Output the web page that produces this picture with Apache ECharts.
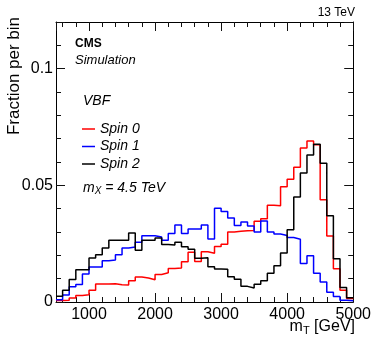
<!DOCTYPE html>
<html>
<head>
<meta charset="utf-8">
<script src="https://cdn.jsdelivr.net/npm/echarts@6/dist/echarts.min.js"></script>
<style>
html,body{margin:0;padding:0;background:#fff;}
#chart{width:374px;height:356px;}
</style>
</head>
<body>
<div id="chart"></div>
<script>
// Bin edges (GeV)
const binEdges = [500,600,700,800,900,1000,1100,1200,1300,1400,1500,1600,1700,1800,1900,2000,2100,2200,2300,2400,2500,2600,2700,2800,2900,3000,3100,3200,3300,3400,3500,3600,3700,3800,3900,4000,4100,4200,4300,4400,4500,4600,4700,4800,4900,5000];
// Fraction per bin, one value per bin
const spin0 = [0.0006,0.0007,0.0017,0.0028,0.0031,0.0050,0.0077,0.0077,0.0078,0.0074,0.0073,0.0091,0.0107,0.0103,0.0095,0.0118,0.0125,0.0144,0.0146,0.0172,0.0213,0.0174,0.0215,0.0209,0.0238,0.0248,0.0300,0.0303,0.0305,0.0306,0.0346,0.0357,0.0415,0.0413,0.0494,0.0526,0.0577,0.0660,0.0690,0.0674,0.0438,0.0283,0.0142,0.0050,0.0015];
const spin1 = [0.0010,0.0030,0.0065,0.0075,0.0120,0.0150,0.0150,0.0177,0.0180,0.0203,0.0231,0.0236,0.0256,0.0284,0.0284,0.0279,0.0265,0.0294,0.0330,0.0294,0.0313,0.0313,0.0330,0.0270,0.0402,0.0388,0.0360,0.0328,0.0343,0.0326,0.0300,0.0347,0.0300,0.0291,0.0285,0.0276,0.0269,0.0165,0.0198,0.0123,0.0086,0.0042,0.0024,0.0008,0.0005];
const spin2 = [0.0025,0.0050,0.0096,0.0138,0.0138,0.0189,0.0203,0.0231,0.0265,0.0265,0.0265,0.0296,0.0222,0.0265,0.0265,0.0274,0.0246,0.0244,0.0256,0.0237,0.0226,0.0187,0.0190,0.0151,0.0141,0.0140,0.0108,0.0098,0.0067,0.0060,0.0076,0.0091,0.0123,0.0155,0.0210,0.0310,0.0450,0.0553,0.0630,0.0676,0.0595,0.0370,0.0185,0.0062,0.0018];
const seriesNames = ['Spin 0','Spin 1','Spin 2'];
const seriesColors = ['#ff0000','#0000ff','#000000'];
const xTickLabels = [1000,2000,3000,4000,5000];
const yTickLabels = [0,0.05,0.1];

function steps(vals){
  return binEdges.map((e,i)=>[e, vals[Math.min(i, vals.length-1)]]);
}

const FONT = '"Liberation Sans", Arial, Helvetica, sans-serif';
const TICK = '#111111';
const chart = echarts.init(document.getElementById('chart'));

function xAx(pos, labels){
  return {
    type:'value', position:pos, min:500, max:5000,
    axisLine:{show:true, onZero:false, lineStyle:{color:'#000', width:1}},
    axisTick:{show:true, inside:true, length:9, lineStyle:{color:TICK, width:1}},
    minorTick:{show:true, splitNumber:5, length:5, lineStyle:{color:TICK, width:1}},
    axisLabel:{show:labels, showMinLabel:false, color:'#000', fontSize:16, fontFamily:FONT, margin:5,
      formatter:(v)=> xTickLabels.indexOf(+v) >= 0 ? String(v) : ''},
    splitLine:{show:false}, minorSplitLine:{show:false}
  };
}
function yAx(pos, labels){
  return {
    type:'value', position:pos, min:0, max:0.12, interval:0.05,
    axisLine:{show:true, onZero:false, lineStyle:{color:'#000', width:1}},
    axisTick:{show:true, inside:true, length:9, lineStyle:{color:TICK, width:1}},
    minorTick:{show:true, splitNumber:5, length:5, lineStyle:{color:TICK, width:1}},
    axisLabel:{show:labels, showMaxLabel:false, color:'#000', fontSize:16, fontFamily:FONT, margin:3,
      formatter:(v)=> yTickLabels.some(t=>Math.abs(t-v)<1e-9) ? String(+(+v).toFixed(3)) : ''},
    splitLine:{show:false}, minorSplitLine:{show:false}
  };
}

const option = {
  animation:false,
  grid:{left:56, right:19, top:22, bottom:54},
  xAxis:[ xAx('bottom', true), xAx('top', false) ],
  yAxis:[ yAx('left', true), yAx('right', false) ],
  legend:{
    left:77, top:116, orient:'vertical',
    icon:'rect', itemWidth:13, itemHeight:1.5, itemGap:1.5,
    textStyle:{fontSize:14, fontStyle:'italic', fontFamily:FONT, color:'#000', lineHeight:16},
    data:seriesNames
  },
  series:[spin0, spin1, spin2].map((vals,i)=>({
    name:seriesNames[i], type:'line', step:'end', xAxisIndex:0, yAxisIndex:0,
    data:steps(vals), showSymbol:false, symbol:'none',
    lineStyle:{color:seriesColors[i], width:1.5}, itemStyle:{color:seriesColors[i]}
  })),
  graphic:[
    {type:'text', x:355, y:13, style:{text:'13 TeV', fill:'#000', font:'12px '+FONT, align:'right', verticalAlign:'middle'}},
    {type:'text', x:75, y:44, style:{text:'CMS', fill:'#000', font:'bold 12px '+FONT, align:'left', verticalAlign:'middle'}},
    {type:'text', x:75, y:60, style:{text:'Simulation', fill:'#000', font:'italic 13px '+FONT, align:'left', verticalAlign:'middle'}},
    {type:'text', x:83, y:101, style:{text:'VBF', fill:'#000', font:'italic 14px '+FONT, align:'left', verticalAlign:'middle'}},
    {type:'text', x:83, y:188, style:{text:'{a|m}{s|X}{a| = 4.5 TeV}', fill:'#000', align:'left', verticalAlign:'middle',
      rich:{a:{fontSize:14, fontStyle:'italic', fontFamily:FONT, color:'#000'}, s:{fontSize:10, fontStyle:'italic', fontFamily:FONT, color:'#000', padding:[7,0,0,0]}}}},
    {type:'text', x:14, y:76, rotation:Math.PI/2, style:{text:'Fraction per bin', fill:'#000', font:'17px '+FONT, align:'center', verticalAlign:'middle'}},
    {type:'text', x:355, y:327, style:{text:'{a|m}{s|T}{a| [GeV]}', fill:'#000', align:'right', verticalAlign:'middle',
      rich:{a:{fontSize:16, fontFamily:FONT, color:'#000'}, s:{fontSize:11, fontFamily:FONT, color:'#000', padding:[8,0,0,0]}}}}
  ]
};
chart.setOption(option);
</script>
</body>
</html>
